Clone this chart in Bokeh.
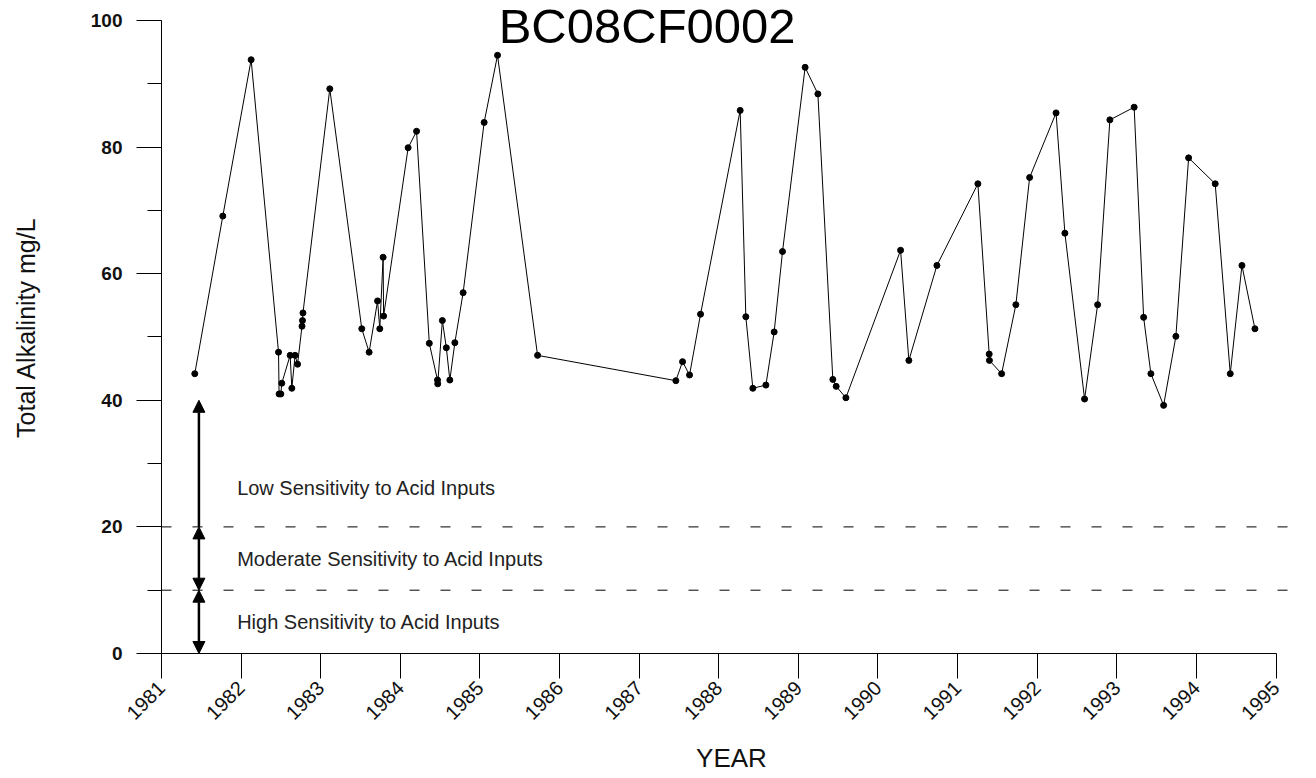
import math
from bokeh.plotting import figure
from bokeh.models import Range1d, FixedTicker, SingleIntervalTicker, Arrow, NormalHead, Label, ColumnDataSource
from bokeh.core.properties import value
from bokeh.embed import file_html
from bokeh.resources import INLINE

# ---- data ----
title_text = "BC08CF0002"
x_label = "YEAR"
y_label = "Total Alkalinity mg/L"

years = [1981.418, 1981.770, 1982.126, 1982.470, 1982.477, 1982.499, 1982.511,
         1982.616, 1982.637, 1982.678, 1982.709, 1982.765, 1982.771, 1982.777,
         1983.114, 1983.516, 1983.608, 1983.714, 1983.742, 1983.784, 1983.790,
         1984.098, 1984.204, 1984.364, 1984.467, 1984.470, 1984.528, 1984.578,
         1984.622, 1984.685, 1984.789, 1985.053, 1985.221, 1985.724,
         1987.461, 1987.545, 1987.633, 1987.771, 1988.269, 1988.340, 1988.428,
         1988.592, 1988.696, 1988.801, 1989.085, 1989.245, 1989.433, 1989.475,
         1989.597, 1990.284, 1990.388, 1990.740, 1991.255, 1991.397, 1991.400,
         1991.553, 1991.732, 1991.905, 1992.237, 1992.348, 1992.595, 1992.759,
         1992.913, 1993.218, 1993.337, 1993.428, 1993.588, 1993.742, 1993.902,
         1994.236, 1994.425, 1994.572, 1994.735]
alkalinity = [44.2, 69.1, 93.8, 47.6, 41.0, 41.0, 42.7,
              47.1, 41.9, 47.1, 45.7, 51.7, 52.6, 53.8,
              89.2, 51.3, 47.6, 55.7, 51.3, 62.6, 53.3,
              79.9, 82.5, 49.0, 43.2, 42.6, 52.6, 48.3,
              43.2, 49.1, 57.0, 83.9, 94.5, 47.1,
              43.1, 46.1, 44.0, 53.6, 85.8, 53.2, 41.9,
              42.4, 50.8, 63.5, 92.6, 88.4, 43.3, 42.2,
              40.4, 63.7, 46.3, 61.3, 74.2, 47.3, 46.3,
              44.2, 55.1, 75.2, 85.4, 66.4, 40.2, 55.1,
              84.3, 86.3, 53.1, 44.2, 39.2, 50.1, 78.3,
              74.2, 44.2, 61.3, 51.3]

tick_years = list(range(1981, 1996))
tick_year_labels = [str(y) for y in tick_years]

thresholds = [20, 10]
band_edges = [0, 10, 20, 40]
band_labels = ["High Sensitivity to Acid Inputs",
               "Moderate Sensitivity to Acid Inputs",
               "Low Sensitivity to Acid Inputs"]
band_label_y = [5.0, 15.0, 26.2]

# ---- figure ----
p = figure(width=1316, height=778,
           x_range=Range1d(1981, 1995.32), y_range=Range1d(0, 103),
           output_backend="svg", toolbar_location=None,
           min_border_left=161, min_border_right=15,
           min_border_top=1, min_border_bottom=125)
p.grid.visible = False
p.outline_line_color = None
p.background_fill_color = "white"
p.border_fill_color = "white"

FONT = "Liberation Sans"

# x axis
xa = p.xaxis[0]
xa.ticker = FixedTicker(ticks=tick_years, minor_ticks=[])
xa.major_label_overrides = {y: l for y, l in zip(tick_years, tick_year_labels)}
xa.bounds = (tick_years[0], tick_years[-1])
xa.major_tick_out = 25
xa.major_tick_in = 0
xa.minor_tick_out = 0
xa.minor_tick_in = 0
xa.major_label_orientation = math.pi / 4
xa.major_label_text_font = FONT
xa.major_label_text_font_size = "20px"
xa.major_label_text_color = "#111111"
xa.major_label_standoff = 6
xa.axis_label = x_label
xa.axis_label_text_font = FONT
xa.axis_label_text_font_size = "26px"
xa.axis_label_text_font_style = "normal"
xa.axis_label_text_color = "#111111"
xa.axis_label_standoff = 14
xa.axis_line_color = "black"
xa.major_tick_line_color = "black"

# y axis
ya = p.yaxis[0]
ya.ticker = SingleIntervalTicker(interval=20, num_minor_ticks=2)
ya.bounds = (0, 100)
ya.major_tick_out = 25
ya.major_tick_in = 0
ya.minor_tick_out = 14
ya.minor_tick_in = 0
ya.major_label_text_font = FONT
ya.major_label_text_font_size = "19px"
ya.major_label_text_font_style = "bold"
ya.major_label_text_color = "#111111"
ya.major_label_standoff = 14
ya.axis_label = y_label
ya.axis_label_text_font = FONT
ya.axis_label_text_font_size = "25px"
ya.axis_label_text_font_style = "normal"
ya.axis_label_text_color = "#111111"
ya.axis_label_standoff = 48
ya.axis_line_color = "black"
ya.major_tick_line_color = "black"
ya.minor_tick_line_color = "black"

# sensitivity threshold lines
p.segment(x0=[tick_years[0]] * len(thresholds), y0=thresholds,
          x1=[1995.27] * len(thresholds), y1=thresholds,
          line_color="black", line_width=1, line_dash="10 21")

# arrows marking the sensitivity bands
ax = 1981.47
p.add_layout(Arrow(x_start=ax, y_start=band_edges[2], x_end=ax, y_end=band_edges[3],
                   start=None,
                   end=NormalHead(size=12, fill_color="black", line_color="black"),
                   line_width=2.5, line_color="black"))
p.add_layout(Arrow(x_start=ax, y_start=band_edges[1], x_end=ax, y_end=band_edges[2],
                   start=NormalHead(size=12, fill_color="black", line_color="black"),
                   end=NormalHead(size=12, fill_color="black", line_color="black"),
                   line_width=2.5, line_color="black"))
p.add_layout(Arrow(x_start=ax, y_start=band_edges[0], x_end=ax, y_end=band_edges[1],
                   start=NormalHead(size=12, fill_color="black", line_color="black"),
                   end=NormalHead(size=12, fill_color="black", line_color="black"),
                   line_width=2.5, line_color="black"))

p.text(x=[1981.95] * len(band_labels), y=band_label_y, text=band_labels,
       text_font=value(FONT), text_font_size="20px", text_color="#222222",
       text_baseline="middle", text_align="left")

# data
src = ColumnDataSource(dict(x=years, y=alkalinity))
p.line("x", "y", source=src, line_color="black", line_width=1)
p.scatter("x", "y", source=src, size=6, fill_color="black", line_color="black")

# title
p.add_layout(Label(x=1987.1, y=99.2, text=title_text, text_align="center",
                   text_baseline="middle", text_font=FONT, text_font_size="49px",
                   text_color="black"))

open("out.html", "w").write(file_html(p, INLINE))
